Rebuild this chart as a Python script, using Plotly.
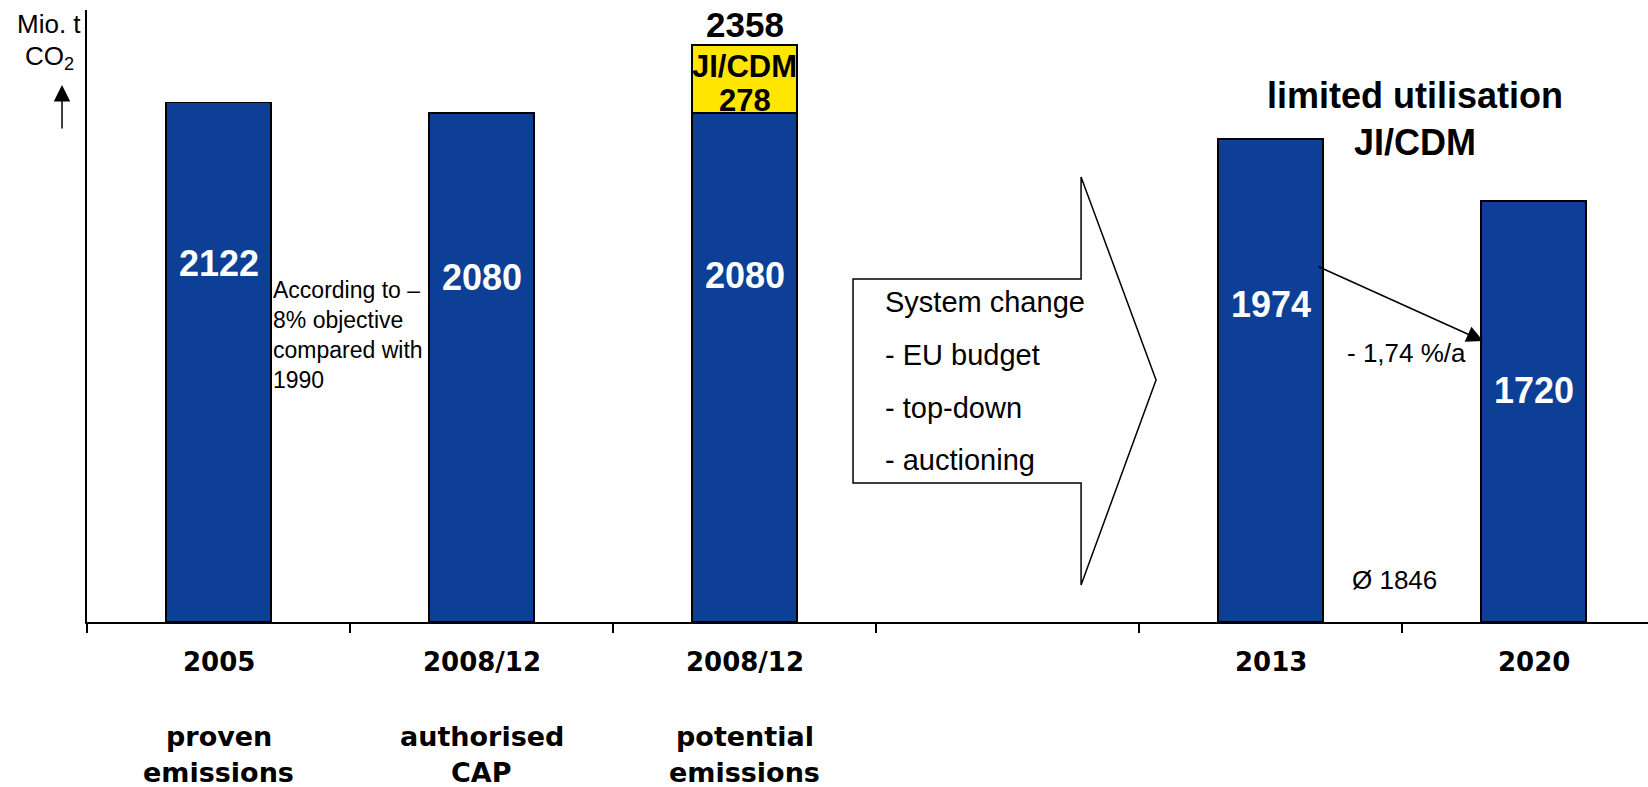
import plotly.graph_objects as go

# ---------------- data ----------------
categories = ["2005", "2008/12", "2008/12", "", "2013", "2020"]
descriptions = [["proven", "emissions"], ["authorised", "CAP"], ["potential", "emissions"],
                ["", ""], ["", ""], ["", ""]]
base_values = [2122, 2080, 2080, None, 1974, 1720]
jicdm_values = [None, None, 278, None, None, None]
total_label = 2358
# y positions (data units) for the value labels inside the bars
value_label_y = [1466, 1409, 1417, None, 1299, 944]

BLUE = "#0D3F96"
YELLOW = "#FFE600"
FONT = "Liberation Sans, Arial, sans-serif"
CATFONT = "DejaVu Sans, Liberation Sans, sans-serif"

xpos = list(range(len(categories)))

fig = go.Figure()
fig.add_trace(go.Bar(
    x=xpos, y=base_values, width=0.4,
    marker=dict(color=BLUE, line=dict(color="black", width=1.5)),
    hoverinfo="skip", showlegend=False))
fig.add_trace(go.Bar(
    x=xpos, y=jicdm_values, width=0.4,
    marker=dict(color=YELLOW, line=dict(color="black", width=1.5)),
    hoverinfo="skip", showlegend=False))

ann = []
# value labels in bars
for i, v in enumerate(base_values):
    if v is None:
        continue
    ann.append(dict(x=xpos[i], y=value_label_y[i], xref="x", yref="y", text=f"<b>{v}</b>",
                    showarrow=False, xanchor="center", yanchor="middle",
                    font=dict(family=FONT, size=36, color="white")))
# JI/CDM stacked part
ann.append(dict(x=2, y=2271, xref="x", yref="y", text="<b>JI/CDM</b>", showarrow=False,
                xanchor="center", yanchor="middle",
                font=dict(family=FONT, size=31, color="black")))
ann.append(dict(x=2, y=2132, xref="x", yref="y", text=f"<b>{jicdm_values[2]}</b>", showarrow=False,
                xanchor="center", yanchor="middle",
                font=dict(family=FONT, size=31, color="black")))
ann.append(dict(x=2, y=2439, xref="x", yref="y", text=f"<b>{total_label}</b>", showarrow=False,
                xanchor="center", yanchor="middle",
                font=dict(family=FONT, size=35, color="black")))

# category labels (below the axis, paper coordinates)
year_y = -0.0654
desc_y = [-0.1879, -0.2467]
for i, c in enumerate(categories):
    if c:
        ann.append(dict(x=xpos[i], y=year_y, xref="x", yref="paper", text=f"<b>{c}</b>",
                        showarrow=False, xanchor="center", yanchor="middle",
                        font=dict(family=CATFONT, size=26, color="black")))
    for j, line in enumerate(descriptions[i]):
        if line:
            ann.append(dict(x=xpos[i], y=desc_y[j], xref="x", yref="paper", text=f"<b>{line}</b>",
                            showarrow=False, xanchor="center", yanchor="middle",
                            font=dict(family=CATFONT, size=27, color="black")))

# y axis title
ann.append(dict(x=-0.0243, y=2443, xref="paper", yref="y", text="Mio. t", showarrow=False,
                xanchor="center", yanchor="middle",
                font=dict(family=FONT, size=26, color="black")))
ann.append(dict(x=-0.0243, y=2308, xref="paper", yref="y", text="CO<sub>2</sub>", showarrow=False,
                xanchor="center", yanchor="middle",
                font=dict(family=FONT, size=26, color="black")))
ann.append(dict(x=-0.016, y=2194, xref="paper", yref="y", text="", showarrow=True,
                ax=0, ay=45, arrowhead=2, arrowsize=2.2, arrowwidth=1.5, arrowcolor="black",
                standoff=0, startstandoff=0))

# note text
ann.append(dict(x=0.1996, y=1174, xref="x", yref="y",
                text="According to –<br>8% objective<br>compared with<br>1990",
                showarrow=False, xanchor="left", yanchor="middle", align="left",
                font=dict(family=FONT, size=23, color="black")))

# system change lines
sys_lines = ["System change", "- EU budget", "- top-down", "- auctioning"]
sys_y = [1307, 1091, 874, 662]
for t, yy in zip(sys_lines, sys_y):
    ann.append(dict(x=2.5266, y=yy, xref="x", yref="y", text=t, showarrow=False,
                    xanchor="left", yanchor="middle",
                    font=dict(family=FONT, size=29, color="black")))

# limited utilisation
ann.append(dict(x=4.549, y=2149, xref="x", yref="y", text="<b>limited utilisation</b>",
                showarrow=False, xanchor="center", yanchor="middle",
                font=dict(family=FONT, size=36, color="black")))
ann.append(dict(x=4.549, y=1957, xref="x", yref="y", text="<b>JI/CDM</b>",
                showarrow=False, xanchor="center", yanchor="middle",
                font=dict(family=FONT, size=36, color="black")))

# decline arrow
ann.append(dict(x=4.808, y=1148, xref="x", yref="y", ax=4.177, ay=1454, axref="x", ayref="y",
                text="", showarrow=True, arrowhead=2, arrowsize=2.2, arrowwidth=1.5,
                arrowcolor="black", standoff=0, startstandoff=0))
ann.append(dict(x=4.515, y=1099, xref="x", yref="y", text="- 1,74 %/a", showarrow=False,
                xanchor="center", yanchor="middle",
                font=dict(family=FONT, size=26, color="black")))
ann.append(dict(x=4.473, y=172, xref="x", yref="y", text="Ø 1846", showarrow=False,
                xanchor="center", yanchor="middle",
                font=dict(family=FONT, size=26, color="black")))

# block arrow
arrow_pts = [(2.4125, 1401), (3.2795, 1401), (3.2795, 1818), (3.5646, 989),
             (3.2795, 151), (3.2795, 568), (2.4125, 568)]
path = "M " + " L ".join(f"{x},{y}" for x, y in arrow_pts) + " Z"
fig.add_shape(type="path", path=path, xref="x", yref="y",
              line=dict(color="black", width=1.5), fillcolor="white", layer="above")

fig.update_layout(
    width=1648, height=787, autosize=False,
    margin=dict(l=87, r=0, t=10, b=165, pad=0),
    paper_bgcolor="white", plot_bgcolor="white",
    barmode="stack", bargap=0.6,
    annotations=ann,
    xaxis=dict(range=[-0.5, 5.435], showgrid=False, zeroline=False,
               showline=True, linecolor="black", linewidth=1.5,
               tickvals=[-0.5, 0.5, 1.5, 2.5, 3.5, 4.5, 5.5], ticks="outside",
               ticklen=9, tickwidth=1.5, tickcolor="black", showticklabels=False,
               fixedrange=True),
    yaxis=dict(range=[0, 2500], showgrid=False, zeroline=False,
               showline=True, linecolor="black", linewidth=1.5,
               ticks="", showticklabels=False, fixedrange=True),
)

fig.write_html("out.html")
